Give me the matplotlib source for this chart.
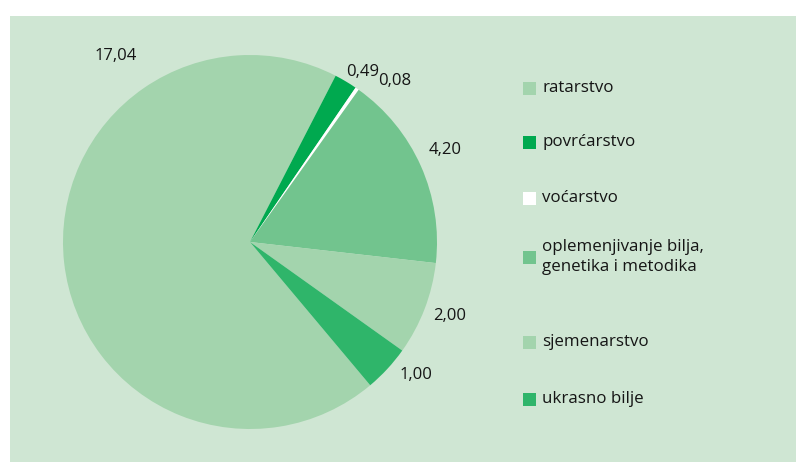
import matplotlib.pyplot as plt
from matplotlib.patches import Rectangle

# Data
categories = ['ratarstvo', 'povrćarstvo', 'voćarstvo',
              'oplemenjivanje bilja,\ngenetika i metodika', 'sjemenarstvo', 'ukrasno bilje']
values = [17.04, 0.49, 0.08, 4.20, 2.00, 1.00]
value_labels = ['17,04', '0,49', '0,08', '4,20', '2,00', '1,00']
colors = ['#a3d4ad', '#00a94f', '#ffffff', '#72c48e', '#a3d4ad', '#2fb56a']

# label placement (pie data units, radius = 1)
label_pos = [(-0.717, 0.995), (0.604, 0.909), (0.775, 0.861),
             (1.043, 0.492), (1.070, -0.396), (0.888, -0.711)]
legend_rows = [88, 142, 198, 257, 342, 399]  # pixel rows of legend entries

plt.rcParams['font.family'] = ['Open Sans', 'DejaVu Sans']

W, H = 796, 462
fig = plt.figure(figsize=(W / 100, H / 100), dpi=100)
fig.patch.set_facecolor('white')

# green panel
fig.add_artist(Rectangle((10 / W, 0), 1, 1 - 16 / H, transform=fig.transFigure,
                         facecolor='#cfe6d3', edgecolor='none', zorder=0))

cx, cy, r = 250, 242, 187
ax = fig.add_axes([(cx - r) / W, (H - cy - r) / H, 2 * r / W, 2 * r / H])
ax.pie(values, colors=colors, startangle=-50, counterclock=False,
       wedgeprops=dict(linewidth=0))
ax.set_xlim(-1, 1)
ax.set_ylim(-1, 1)
ax.set_aspect('equal')
ax.axis('off')

for txt, (x, y) in zip(value_labels, label_pos):
    ax.text(x, y, txt, ha='center', va='center', fontsize=12, color='#151515')

# legend
for cat, col, row in zip(categories, colors, legend_rows):
    yf = 1 - row / H
    fig.add_artist(Rectangle((523 / W, yf - 6.5 / H), 13 / W, 13 / H,
                             transform=fig.transFigure, facecolor=col,
                             edgecolor='none'))
    fig.text(542 / W, yf, cat, ha='left', va='center', fontsize=12.2,
             color='#151515', linespacing=1.4)

fig.savefig('out.png', dpi=100)
